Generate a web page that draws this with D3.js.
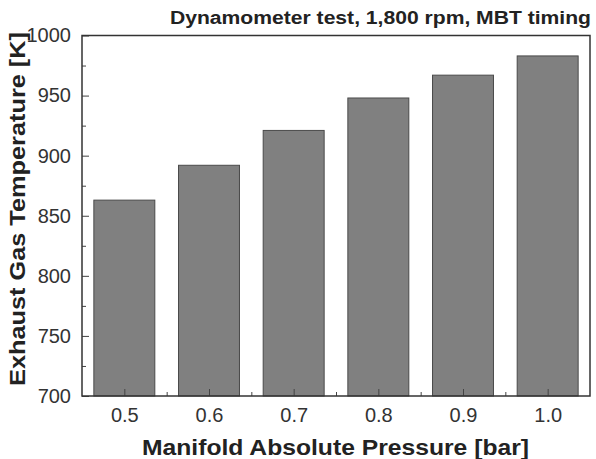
<!DOCTYPE html>
<head>
<meta charset="utf-8">
<style>
body { margin: 0; background: #fff; }
text { font-family: "Liberation Sans", Arial, sans-serif; }
.bar { fill: #808080; stroke: #4a4a4a; stroke-width: 1px; }
.tick text { fill: #333; font-size: 20px; }
</style>
</head>
<body>
<script src="https://cdn.jsdelivr.net/npm/d3@7"></script>
<script>
var pressures = [0.5, 0.6, 0.7, 0.8, 0.9, 1.0];
var temps = [863, 892, 921, 948, 967, 983];
var yTicks = [700, 750, 800, 850, 900, 950, 1000];
var xTickLabels = ["0.5", "0.6", "0.7", "0.8", "0.9", "1.0"];

var W = 596, H = 459;
var mLeft = 82, mRight = 590, mTop = 35.5, mBottom = 396;

var svg = d3.select("body").append("svg")
  .attr("width", W)
  .attr("height", H);

var x = d3.scaleLinear().domain([0.45, 1.05]).range([mLeft, mRight]);
var y = d3.scaleLinear().domain([700, 1000]).range([mBottom, mTop]);
var barW = x(0.072) - x(0);

svg.selectAll("rect.bar")
  .data(pressures)
  .enter().append("rect")
  .attr("class", "bar")
  .attr("x", function(d) { return x(d) - barW / 2; })
  .attr("y", function(d, i) { return y(temps[i]); })
  .attr("width", barW)
  .attr("height", function(d, i) { return y(700) - y(temps[i]); });

// minor ticks
var minorY = d3.range(725, 1000, 50);
svg.append("g").attr("transform", "translate(" + mLeft + ",0)")
  .call(d3.axisRight(y).tickValues(minorY).tickSize(4).tickFormat(""))
  .call(function(g) { g.select(".domain").remove(); g.selectAll("line").attr("stroke", "#444"); });
var minorX = [0.55, 0.65, 0.75, 0.85, 0.95];
svg.append("g").attr("transform", "translate(0," + mBottom + ")")
  .call(d3.axisTop(x).tickValues(minorX).tickSize(4).tickFormat(""))
  .call(function(g) { g.select(".domain").remove(); g.selectAll("line").attr("stroke", "#444"); });

// major ticks inward, labels outside
var yAxis = svg.append("g").attr("transform", "translate(" + mLeft + ",0)")
  .call(d3.axisLeft(y).tickValues(yTicks).tickSize(-7).tickPadding(11).tickFormat(d3.format("d")));
yAxis.select(".domain").remove();
yAxis.selectAll("line").attr("stroke", "#444");

var xAxis = svg.append("g").attr("transform", "translate(0," + mBottom + ")")
  .call(d3.axisBottom(x).tickValues(pressures).tickSize(-7).tickPadding(12)
    .tickFormat(function(d, i) { return xTickLabels[i]; }));
xAxis.select(".domain").remove();
xAxis.selectAll("line").attr("stroke", "#444");

// frame
svg.append("rect")
  .attr("x", mLeft).attr("y", mTop)
  .attr("width", mRight - mLeft).attr("height", mBottom - mTop)
  .attr("fill", "none").attr("stroke", "#333").attr("stroke-width", 1.5);

svg.append("text")
  .attr("x", 170).attr("y", 24)
  .attr("textLength", 421).attr("lengthAdjust", "spacingAndGlyphs")
  .attr("font-size", 18).attr("font-weight", "bold").attr("fill", "#222")
  .text("Dynamometer test, 1,800 rpm, MBT timing");

svg.append("text")
  .attr("x", 142).attr("y", 455)
  .attr("textLength", 387).attr("lengthAdjust", "spacingAndGlyphs")
  .attr("font-size", 22).attr("font-weight", "bold").attr("fill", "#222")
  .text("Manifold Absolute Pressure [bar]");

svg.append("text")
  .attr("transform", "translate(25,386) rotate(-90)")
  .attr("textLength", 354).attr("lengthAdjust", "spacingAndGlyphs")
  .attr("font-size", 22).attr("font-weight", "bold").attr("fill", "#222")
  .text("Exhaust Gas Temperature [K]");
</script>
</body>
